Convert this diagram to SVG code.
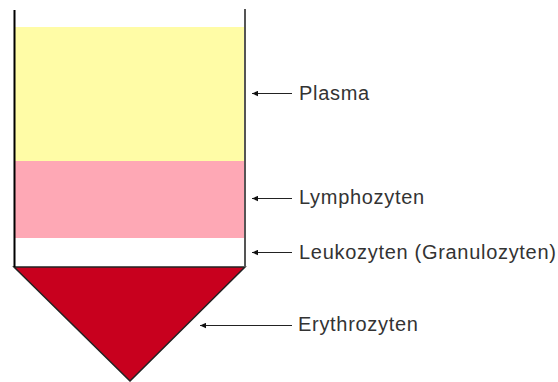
<svg xmlns="http://www.w3.org/2000/svg" width="558" height="382" viewBox="0 0 558 382">
<style>
.lbl{font-family:"Liberation Sans",Arial,sans-serif;font-size:20px;fill:#333;letter-spacing:0.7px}
.ptr{stroke:#222;stroke-width:1;fill:none}
</style>
<defs>
<marker id="ah" viewBox="0 0 10 10" refX="10" refY="5" markerWidth="8" markerHeight="6" markerUnits="userSpaceOnUse" orient="auto">
<path d="M0,0.5 L10,5 L0,9.5 Z" fill="#111"/>
</marker>
</defs>
<rect width="558" height="382" fill="#fff"/>
<g id="tube">
<rect x="14" y="27" width="231" height="134" fill="#FFFCA6"/>
<rect x="14" y="161" width="231" height="77" fill="#FEA8B5"/>
<polygon points="14,267 245,267 130,381" fill="#C8001E" stroke="#222" stroke-width="1.5" stroke-linejoin="miter"/>
<line x1="14.5" y1="10" x2="14.5" y2="267" stroke="#000" stroke-width="2"/>
<line x1="245" y1="9" x2="245" y2="267" stroke="#555" stroke-width="2"/>
</g>
<g id="connectors">
<line class="ptr" x1="292" y1="93.5" x2="252" y2="93.5" marker-end="url(#ah)"/>
<line class="ptr" x1="292" y1="198.5" x2="252" y2="198.5" marker-end="url(#ah)"/>
<line class="ptr" x1="292" y1="252.5" x2="252" y2="252.5" marker-end="url(#ah)"/>
<line class="ptr" x1="292" y1="325.5" x2="200" y2="325.5" marker-end="url(#ah)"/>
</g>
<g id="plasma"><text class="lbl" x="299" y="100">Plasma</text></g>
<g id="lymphozyten"><text class="lbl" x="299" y="204">Lymphozyten</text></g>
<g id="leukozyten"><text class="lbl" x="299" y="259">Leukozyten (Granulozyten)</text></g>
<g id="erythrozyten"><text class="lbl" x="298" y="331">Erythrozyten</text></g>
</svg>
